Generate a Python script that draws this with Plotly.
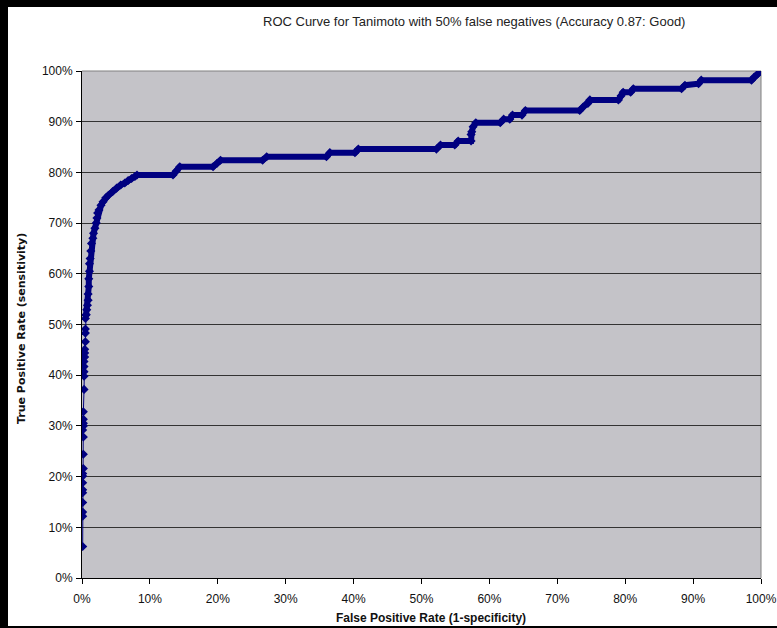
import plotly.graph_objects as go

# ROC points (false positive rate, true positive rate)
fpr = [0.001, 0.001, 0.001, 0.001, 0.001, 0.001, 0.001, 0.001, 0.001, 0.002,
       0.002, 0.002, 0.001, 0.002, 0.002, 0.002, 0.002, 0.003, 0.003, 0.003,
       0.003, 0.003, 0.004, 0.004, 0.004, 0.005, 0.005, 0.005, 0.005, 0.006,
       0.007, 0.008, 0.009,
       0.009, 0.010, 0.010, 0.011, 0.011, 0.012, 0.013, 0.014, 0.016, 0.017,
       0.019, 0.021, 0.022, 0.023, 0.025, 0.028, 0.031, 0.035, 0.039, 0.045,
       0.051, 0.057, 0.063, 0.068, 0.073, 0.078, 0.081, 0.134, 0.139, 0.144,
       0.193, 0.199, 0.204, 0.266, 0.272, 0.360, 0.365, 0.402, 0.407, 0.522,
       0.528, 0.549, 0.554, 0.573, 0.573, 0.574, 0.576, 0.580, 0.616, 0.621,
       0.630, 0.634, 0.648, 0.653, 0.733, 0.738, 0.745, 0.748, 0.790, 0.794,
       0.797, 0.808, 0.812, 0.883, 0.888, 0.908, 0.912, 0.986, 0.990, 0.995,
       1.000]
tpr = [0.062, 0.122, 0.130, 0.149, 0.168, 0.174, 0.188, 0.201, 0.206, 0.216,
       0.244, 0.278, 0.292, 0.300, 0.305, 0.313, 0.328, 0.372, 0.398, 0.407,
       0.417, 0.427, 0.436, 0.444, 0.451, 0.466, 0.483, 0.491, 0.512, 0.519,
       0.529, 0.538, 0.548,
       0.560, 0.575, 0.590, 0.605, 0.620, 0.630, 0.645, 0.660, 0.670, 0.680,
       0.690, 0.700, 0.710, 0.720, 0.726, 0.735, 0.742, 0.750, 0.755, 0.762,
       0.769, 0.775, 0.779, 0.784, 0.788, 0.792, 0.795, 0.795, 0.803, 0.811,
       0.811, 0.818, 0.824, 0.824, 0.831, 0.831, 0.839, 0.839, 0.846, 0.846,
       0.854, 0.854, 0.862, 0.862, 0.875, 0.880, 0.890, 0.898, 0.898, 0.905,
       0.905, 0.913, 0.913, 0.922, 0.922, 0.929, 0.936, 0.943, 0.943, 0.951,
       0.958, 0.958, 0.965, 0.965, 0.972, 0.975, 0.982, 0.982, 0.988, 0.994,
       1.000]

tick_vals = [0, 0.1, 0.2, 0.3, 0.4, 0.5, 0.6, 0.7, 0.8, 0.9, 1.0]
tick_text = ["0%", "10%", "20%", "30%", "40%", "50%", "60%", "70%", "80%", "90%", "100%"]

title_text = "ROC Curve for Tanimoto with 50% false negatives (Accuracy 0.87: Good)"
x_title = "False Positive Rate (1-specificity)"
y_title = "True Positive Rate (sensitivity)"

NAVY = "#000080"
split = 29  # steep (sparse) part vs dense part

fig = go.Figure()
fig.add_trace(go.Scatter(
    x=fpr[:split + 1], y=tpr[:split + 1], mode="lines+markers",
    line=dict(color=NAVY, width=1),
    marker=dict(symbol="diamond", size=7, color=NAVY),
    hoverinfo="skip", showlegend=False))
fig.add_trace(go.Scatter(
    x=fpr[split:], y=tpr[split:], mode="lines+markers",
    line=dict(color=NAVY, width=6),
    marker=dict(symbol="diamond", size=7, color=NAVY),
    hoverinfo="skip", showlegend=False))

W, H = 777, 628
L, R, T, B = 82, 16, 71, 50
pw, ph = W - L - R, H - T - B


def px(x):
    return (x - L) / pw


def py(y):
    return (H - B - y) / ph


shapes = [
    dict(type="line", xref="paper", yref="paper", x0=0, x1=1, y0=1, y1=1,
         line=dict(color="#808080", width=1), layer="below"),
    dict(type="line", xref="paper", yref="paper", x0=1, x1=1, y0=0, y1=1,
         line=dict(color="#808080", width=1), layer="below"),
    dict(type="rect", xref="paper", yref="paper", x0=px(0), x1=px(8), y0=py(H), y1=py(0),
         fillcolor="black", line=dict(width=0)),
    dict(type="rect", xref="paper", yref="paper", x0=px(0), x1=px(W), y0=py(7), y1=py(0),
         fillcolor="black", line=dict(width=0)),
    dict(type="rect", xref="paper", yref="paper", x0=px(0), x1=px(W), y0=py(H), y1=py(H - 2),
         fillcolor="black", line=dict(width=0)),
]

annotations = [
    dict(text=title_text, xref="paper", yref="paper", x=px(474), y=py(22),
         xanchor="center", yanchor="middle", showarrow=False,
         font=dict(family="Liberation Sans, Arial", size=13, color="#222222")),
    dict(text="<b>" + x_title + "</b>", xref="paper", yref="paper", x=px(431), y=py(618),
         xanchor="center", yanchor="middle", showarrow=False,
         font=dict(family="Liberation Sans, Arial", size=12, color="#111111")),
    dict(text="<b>" + y_title + "</b>", xref="paper", yref="paper", x=px(22), y=py(329),
         xanchor="center", yanchor="middle", showarrow=False, textangle=-90,
         font=dict(family="DejaVu Sans", size=11, color="#111111")),
]

fig.update_layout(
    width=W, height=H, autosize=False,
    margin=dict(l=L, r=R, t=T, b=B, pad=0, autoexpand=False),
    paper_bgcolor="white",
    plot_bgcolor="#C4C3C8",
    font=dict(family="Liberation Sans, Arial", size=12, color="#111111"),
    shapes=shapes,
    annotations=annotations,
    xaxis=dict(range=[0, 1], tickvals=tick_vals, ticktext=tick_text, automargin=False,
               showgrid=False, zeroline=False, showline=True, linecolor="black", linewidth=1,
               ticks="outside", ticklen=5, tickcolor="black", fixedrange=True,
               ticklabelstandoff=5),
    yaxis=dict(range=[0, 1], tickvals=tick_vals, ticktext=tick_text, automargin=False,
               showgrid=True, gridcolor="#333333", gridwidth=1,
               zeroline=False, showline=True, linecolor="black", linewidth=1,
               ticks="outside", ticklen=5, tickcolor="black", fixedrange=True,
               ticklabelstandoff=1),
)

fig.write_html("out.html", config={"displayModeBar": False, "responsive": False})

# remove the browser's default page margin so the figure sits at the window's corner
with open("out.html", "r", encoding="utf-8") as f:
    html = f.read()
html = html.replace("<head>", "<head><style>html,body{margin:0;padding:0;overflow:hidden}</style>", 1)
with open("out.html", "w", encoding="utf-8") as f:
    f.write(html)
